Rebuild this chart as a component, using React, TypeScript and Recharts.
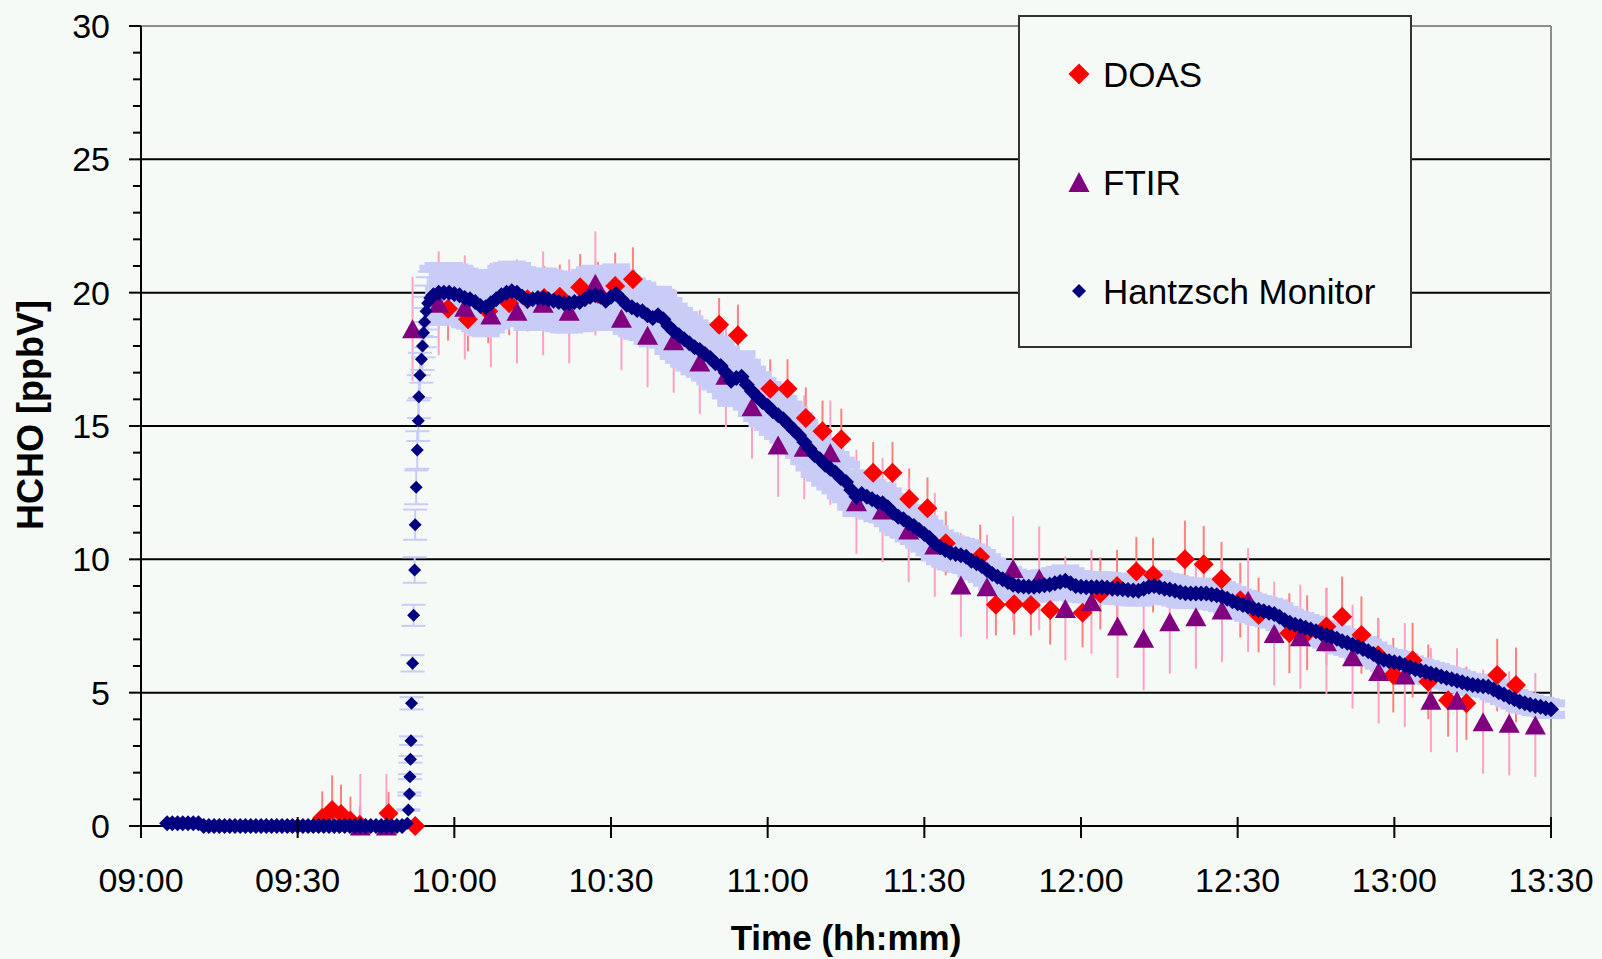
import { ErrorBar, Label, ReferenceLine, Scatter, ScatterChart, XAxis, YAxis } from 'recharts';

const FONT = '"Liberation Sans", Arial, sans-serif';
const BG = '#f6faf6';

// x values are minutes after 09:00
const X_TICKS = [0, 30, 60, 90, 120, 150, 180, 210, 240, 270];
const X_TICK_LABELS = ['09:00', '09:30', '10:00', '10:30', '11:00', '11:30', '12:00', '12:30', '13:00', '13:30'];
const Y_TICKS = [0, 1, 2, 3, 4, 5, 6, 7, 8, 9, 10, 11, 12, 13, 14, 15, 16, 17, 18, 19, 20, 21, 22, 23, 24, 25, 26, 27, 28, 29, 30];
const Y_LABELED = [0, 5, 10, 15, 20, 25, 30];
const GRID_LINES = [5, 10, 15, 20, 25];

const DOAS_TIME = [
  34.7, 36.6, 38.3, 40.1, 41.9, 47.4, 52.5,
  58.8, 62.6, 66.5, 70.5, 74.0, 77.2, 80.2, 84.1, 87.5, 90.8, 94.2,
  110.7, 114.3, 120.5, 123.8, 127.3, 130.5, 134.1, 140.2, 143.9, 147.1, 150.6, 154.1, 160.7,
  163.7, 167.2, 170.4, 174.1, 180.3, 183.7, 186.9, 190.6, 193.8, 199.9, 203.5, 206.9, 210.5, 214.0,
  219.9, 223.3, 227.0, 230.0, 233.7, 236.9, 239.8, 243.5, 246.5, 250.3, 253.8, 259.7, 263.3,
];
const DOAS_VALUE = [
  0.3, 0.6, 0.45, 0.2, 0.05, 0.48, 0.0,
  19.4, 19.0, 19.3, 19.6, 19.75, 19.8, 19.85, 20.2, 19.95, 20.25, 20.5,
  18.8, 18.4, 16.4, 16.4, 15.3, 14.8, 14.5, 13.25, 13.25, 12.26, 11.92, 10.6, 10.1,
  8.3, 8.32, 8.29, 8.1, 8.0, 8.72, 9.0, 9.54, 9.41, 10.0, 9.82, 9.25, 8.47, 7.91,
  7.23, 7.25, 7.48, 7.85, 7.16, 6.4, 5.66, 6.22, 5.41, 4.72, 4.6, 5.66, 5.29,
];
const DOAS_ERR = [
  1.0, 1.3, 1.1, 0.9, 0.7, 0.8, 0.3,
  1.2, 1.2, 1.2, 1.2, 1.2, 1.2, 1.2, 1.25, 1.2, 1.25, 1.2,
  1.0, 1.15, 1.1, 1.1, 1.15, 1.15, 1.15, 1.15, 1.15, 1.15, 1.15, 1.2, 1.2,
  1.15, 1.15, 1.15, 1.3, 1.3, 1.35, 1.35, 1.3, 1.4, 1.45, 1.43, 1.4, 1.4, 1.4,
  1.5, 1.4, 1.45, 1.5, 1.45, 1.4, 1.4, 1.4, 1.4, 1.37, 1.37, 1.36, 1.4,
];

const FTIR_TIME = [
  42, 47, 52, 57, 62, 67, 72, 77, 82, 87, 92, 97, 102, 107, 112, 117, 122, 127, 132, 137, 142, 147, 152,
  157, 162, 167, 172, 177, 182, 187, 192, 197, 202, 207, 212, 217, 222, 227, 232, 237, 242, 247, 252, 257, 262, 267,
];
const FTIR_VALUE = [
  0.0, 0.0, 18.65, 19.6, 19.45, 19.16, 19.3, 19.6, 19.3, 20.35, 19.04, 18.4, 18.2, 17.4, 16.9, 15.72, 14.29, 14.2, 14.0, 12.16, 11.85, 11.1, 10.54,
  9.04, 8.97, 9.66, 9.29, 8.16, 8.41, 7.5, 7.04, 7.66, 7.85, 8.1, 8.47, 7.22, 7.1, 6.91, 6.35, 5.79, 5.66, 4.72, 4.72, 3.91, 3.85, 3.79,
];
const FTIR_ERR = 1.95;

// Hantzsch monitor: one reading per minute before and after the step, finer readings through it
const HANTZSCH_PRE_START = 5;
const HANTZSCH_PRE = [
  0.1, 0.1, 0.1, 0.1, 0.1, 0.1, 0.1, 0, 0, 0,
  0, 0, 0, 0, 0, 0, 0, 0, 0, 0,
  0, 0, 0, 0, 0, 0, 0, 0, 0, 0,
  0, 0, 0, 0, 0, 0, 0, 0, 0, 0,
  0, 0, 0, 0, 0, 0,
];
const HANTZSCH_RISE_TIME = [51.0, 51.2, 51.4, 51.5, 51.6, 51.7, 51.8, 52.0, 52.2, 52.4, 52.5, 52.7, 52.9, 53.1, 53.2, 53.4, 53.7, 53.9, 54.1, 54.3, 54.6, 54.9, 55.3];
const HANTZSCH_RISE_VALUE = [0.1, 0.6, 1.2, 1.85, 2.5, 3.2, 4.6, 6.1, 7.9, 9.6, 11.3, 12.7, 14.1, 15.2, 16.1, 16.9, 17.5, 18.0, 18.5, 18.9, 19.3, 19.6, 19.8];
const HANTZSCH_POST_START = 56;
const HANTZSCH_POST = [
  19.9, 20.0, 20.0, 20.0, 19.95, 19.9, 19.8, 19.75, 19.65, 19.5,
  19.45, 19.6, 19.75, 19.9, 20.0, 20.05, 20.0, 19.85, 19.7, 19.75,
  19.8, 19.8, 19.75, 19.7, 19.65, 19.6, 19.6, 19.65, 19.65, 19.75,
  19.85, 19.9, 19.85, 19.7, 19.85, 19.95, 19.75, 19.55, 19.45, 19.35,
  19.3, 19.15, 19.05, 19.15, 19.0, 18.75, 18.55, 18.4, 18.25, 18.1,
  17.95, 17.85, 17.7, 17.55, 17.35, 17.25, 17.0, 16.7, 16.8, 16.85,
  16.55, 16.3, 16.1, 15.9, 15.75, 15.55, 15.4, 15.25, 15.05, 14.85,
  14.65, 14.4, 14.15, 13.9, 13.75, 13.55, 13.4, 13.25, 13.05, 12.9,
  12.6, 12.35, 12.45, 12.35, 12.25, 12.15, 12.1, 11.95, 11.75, 11.6,
  11.5, 11.35, 11.25, 11.1, 10.95, 10.8, 10.6, 10.45, 10.35, 10.25,
  10.2, 10.15, 10.1, 9.95, 9.85, 9.75, 9.6, 9.45, 9.35, 9.25,
  9.15, 9.05, 9.0, 8.98, 8.97, 8.97, 9.0, 9.03, 9.05, 9.1,
  9.15, 9.2, 9.1, 9.0, 8.97, 8.95, 8.95, 8.95, 8.95, 8.93,
  8.9, 8.9, 8.88, 8.85, 8.83, 8.82, 8.9, 8.97, 9.0, 8.95,
  8.9, 8.87, 8.82, 8.77, 8.73, 8.72, 8.72, 8.72, 8.72, 8.68,
  8.65, 8.6, 8.52, 8.43, 8.35, 8.29, 8.22, 8.16, 8.1, 8.05,
  8.0, 7.95, 7.85, 7.72, 7.62, 7.55, 7.5, 7.43, 7.37, 7.3,
  7.22, 7.15, 7.1, 7.02, 6.93, 6.87, 6.8, 6.72, 6.64, 6.55,
  6.45, 6.33, 6.23, 6.18, 6.14, 6.1, 6.03, 5.95, 5.88, 5.83,
  5.78, 5.72, 5.67, 5.61, 5.55, 5.5, 5.45, 5.39, 5.33, 5.29,
  5.26, 5.24, 5.22, 5.12, 5.02, 4.93, 4.84, 4.75, 4.66, 4.6,
  4.55, 4.5, 4.47, 4.42, 4.38,
];
// relative uncertainty of the monitor
const HANTZSCH_REL_ERR = 0.05;

const DOAS_COLOR = '#ff0000';
const DOAS_ERR_COLOR = '#ff8080';
const FTIR_COLOR = '#800080';
const FTIR_ERR_COLOR = '#ffa0c8';
const HANTZSCH_COLOR = '#000080';
const HANTZSCH_ERR_COLOR = '#c8ccf6';

const doasData = DOAS_TIME.map((t, i) => ({
  t,
  v: DOAS_VALUE[i],
  err: [Math.min(DOAS_ERR[i], DOAS_VALUE[i]), DOAS_ERR[i]],
}));
const ftirData = FTIR_TIME.map((t, i) => ({
  t,
  v: FTIR_VALUE[i],
  err: [Math.min(FTIR_ERR, FTIR_VALUE[i]), FTIR_ERR],
}));
const hantzschPre = HANTZSCH_PRE.map((v, i) => ({ t: HANTZSCH_PRE_START + i, v, err: 0 }));
const hantzschRise = HANTZSCH_RISE_TIME.map((t, i) => ({
  t,
  v: HANTZSCH_RISE_VALUE[i],
  err: HANTZSCH_RISE_VALUE[i] * HANTZSCH_REL_ERR,
}));
const hantzschPost = HANTZSCH_POST.map((v, i) => ({ t: HANTZSCH_POST_START + i, v, err: v * HANTZSCH_REL_ERR }));
const hantzschDense = [...hantzschPre, ...hantzschPost];

function diamondPoints(cx: number, cy: number, r: number) {
  return `${cx},${cy - r} ${cx + r},${cy} ${cx},${cy + r} ${cx - r},${cy}`;
}

function trianglePoints(cx: number, cy: number, w: number, h: number) {
  return `${cx},${cy - h / 2} ${cx + w / 2},${cy + h / 2} ${cx - w / 2},${cy + h / 2}`;
}

const noMarker = () => <g />;
const doasMarker = (p: any) => <polygon points={diamondPoints(p.cx, p.cy, 10)} fill={DOAS_COLOR} />;
const ftirMarker = (p: any) => <polygon points={trianglePoints(p.cx, p.cy, 21, 19)} fill={FTIR_COLOR} />;
const hantzschMarker = (p: any) => <polygon points={diamondPoints(p.cx, p.cy, 6.5)} fill={HANTZSCH_COLOR} />;
// minute readings overlap into a solid band
const hantzschDenseMarker = (p: any) => <polygon points={diamondPoints(p.cx, p.cy, 8)} fill={HANTZSCH_COLOR} />;

function YTick(props: any) {
  const { x, y, payload } = props;
  const labeled = Y_LABELED.includes(payload.value);
  return (
    <g>
      <line x1={x - (labeled ? 12 : 8)} x2={x} y1={y} y2={y} stroke="#000" strokeWidth={2} />
      {labeled && (
        <text x={x - 31} y={y + 12} textAnchor="end" fontSize={34} fontFamily={FONT} fill="#000">
          {payload.value}
        </text>
      )}
    </g>
  );
}

function XTick(props: any) {
  const { x, y, payload } = props;
  const label = X_TICK_LABELS[X_TICKS.indexOf(payload.value)];
  return (
    <g>
      <line x1={x} x2={x} y1={y - 9} y2={y + 12} stroke="#000" strokeWidth={2} />
      <text x={x} y={y + 66} textAnchor="middle" fontSize={34} fontFamily={FONT} fill="#000">
        {label}
      </text>
    </g>
  );
}

function Legend() {
  const rows = [
    { name: 'DOAS', y: 59, marker: <polygon points={diamondPoints(61, 59, 10.5)} fill={DOAS_COLOR} /> },
    { name: 'FTIR', y: 167, marker: <polygon points={trianglePoints(61, 167, 21, 20)} fill={FTIR_COLOR} /> },
    { name: 'Hantzsch Monitor', y: 276, marker: <polygon points={diamondPoints(61, 276, 7)} fill={HANTZSCH_COLOR} /> },
  ];
  return (
    <svg
      width={394}
      height={333}
      style={{ position: 'absolute', left: 1018, top: 15 }}
    >
      <rect x={1} y={1} width={392} height={331} fill={BG} stroke="#333" strokeWidth={2} />
      {rows.map((r) => (
        <g key={r.name}>
          {r.marker}
          <text x={85} y={r.y + 13} fontSize={35} fontFamily={FONT} fill="#000">
            {r.name}
          </text>
        </g>
      ))}
    </svg>
  );
}

export default function App() {
  return (
    <div style={{ position: 'absolute', left: 0, top: 0, width: 1602, height: 959, background: BG }}>
      <ScatterChart
        width={1602}
        height={959}
        margin={{ top: 26, right: 51, bottom: 0, left: 0 }}
        style={{ fontFamily: FONT }}
      >
        <XAxis
          dataKey="t"
          type="number"
          domain={[0, 270]}
          ticks={X_TICKS}
          interval={0}
          height={133}
          tickSize={0}
          tickMargin={0}
          tickLine={false}
          tick={<XTick />}
          axisLine={{ stroke: '#000', strokeWidth: 2 }}
        >
          <Label
            content={({ viewBox }: any) => (
              <text
                x={viewBox.x + viewBox.width / 2}
                y={950}
                textAnchor="middle"
                fontSize={35}
                fontWeight="bold"
                fontFamily={FONT}
                fill="#000"
              >
                Time (hh:mm)
              </text>
            )}
          />
        </XAxis>
        <YAxis
          dataKey="v"
          type="number"
          domain={[0, 30]}
          ticks={Y_TICKS}
          interval={0}
          width={141}
          tickSize={0}
          tickMargin={0}
          tickLine={false}
          tick={<YTick />}
          axisLine={{ stroke: '#000', strokeWidth: 2 }}
        >
          <Label
            content={() => (
              <text
                x={43}
                y={415}
                transform={`rotate(-90, 43, 415)`}
                textAnchor="middle"
                fontSize={36}
                fontWeight="bold"
                fontFamily={FONT}
                fill="#000"
              >
                HCHO [ppbV]
              </text>
            )}
          />
        </YAxis>

        {GRID_LINES.map((g) => (
          <ReferenceLine key={g} y={g} stroke="#000" strokeWidth={2} />
        ))}
        <ReferenceLine y={30} stroke="#8c8c8c" strokeWidth={2} />
        <ReferenceLine x={270} stroke="#8c8c8c" strokeWidth={2} />

        {/* error bars sit under every marker */}
        <Scatter data={doasData} shape={noMarker} isAnimationActive={false}>
          <ErrorBar dataKey="err" direction="y" width={0} stroke={DOAS_ERR_COLOR} strokeWidth={2} isAnimationActive={false} />
        </Scatter>
        <Scatter data={ftirData} shape={noMarker} isAnimationActive={false}>
          <ErrorBar dataKey="err" direction="y" width={0} stroke={FTIR_ERR_COLOR} strokeWidth={2} isAnimationActive={false} />
        </Scatter>
        <Scatter data={hantzschRise} shape={noMarker} isAnimationActive={false}>
          <ErrorBar dataKey="err" direction="y" width={12} stroke={HANTZSCH_ERR_COLOR} strokeWidth={2} isAnimationActive={false} />
        </Scatter>
        <Scatter data={hantzschPost} shape={noMarker} isAnimationActive={false}>
          <ErrorBar dataKey="err" direction="y" width={14} stroke={HANTZSCH_ERR_COLOR} strokeWidth={8} isAnimationActive={false} />
        </Scatter>

        <Scatter name="DOAS" data={doasData} shape={doasMarker} isAnimationActive={false} />
        <Scatter name="FTIR" data={ftirData} shape={ftirMarker} isAnimationActive={false} />
        <Scatter name="Hantzsch Monitor" data={hantzschRise} shape={hantzschMarker} isAnimationActive={false} />
        <Scatter name="Hantzsch Monitor" data={hantzschDense} shape={hantzschDenseMarker} isAnimationActive={false} />
      </ScatterChart>
      <Legend />
    </div>
  );
}
